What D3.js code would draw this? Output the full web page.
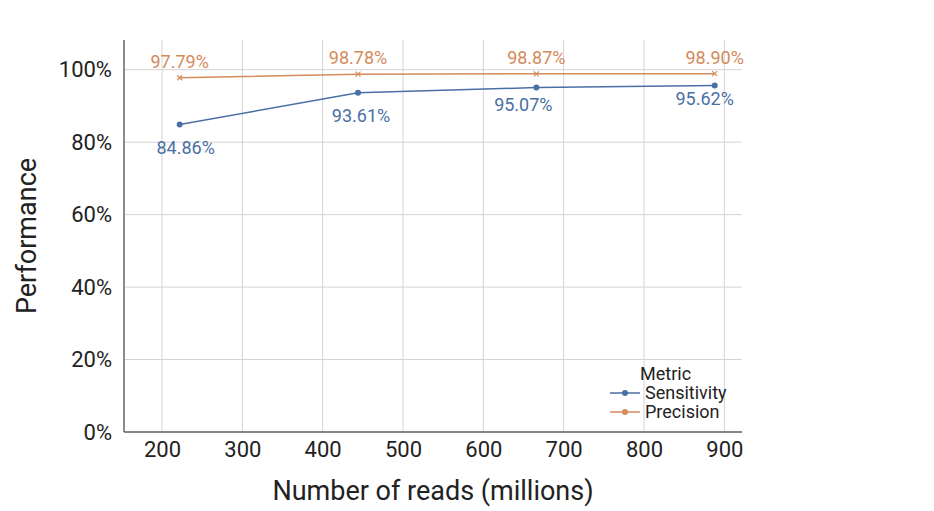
<!DOCTYPE html><html><head><meta charset="utf-8"><script src="https://cdn.jsdelivr.net/npm/d3@7"></script>
<style>body{margin:0;background:#fff}text{font-family:Roboto,"Open Sans",sans-serif}</style></head><body><svg width="934" height="511"></svg>
<script>
const reads=[222,444,666,888];
const sensitivity=[84.86,93.61,95.07,95.62];
const precision=[97.79,98.78,98.87,98.90];
const xTicks=[200,300,400,500,600,700,800,900];
const yTicks=[0,20,40,60,80,100];
const svg=d3.select("svg");
const L=124,R=742,T=40,B=432;
const x=d3.scaleLinear().domain([152.7,922]).range([L,R]);
const y=d3.scaleLinear().domain([0,108.2]).range([B,T]);
const g=svg.append("g");
g.selectAll(".gx").data(xTicks).join("line").attr("x1",d=>x(d)).attr("x2",d=>x(d)).attr("y1",T).attr("y2",B).attr("stroke","#d3d3d3");
g.selectAll(".gy").data(yTicks).join("line").attr("x1",L).attr("x2",R).attr("y1",d=>y(d)).attr("y2",d=>y(d)).attr("stroke","#d3d3d3");
svg.append("line").attr("x1",L).attr("x2",L).attr("y1",T).attr("y2",B).attr("stroke","#666").attr("stroke-width",1.5);
svg.append("line").attr("x1",L).attr("x2",R).attr("y1",B).attr("y2",B).attr("stroke","#666").attr("stroke-width",1.5);
const xa=svg.append("g").attr("transform",`translate(0,${B})`).call(d3.axisBottom(x).tickValues(xTicks).tickSize(0).tickPadding(9));
xa.select(".domain").remove();xa.selectAll("text").attr("font-size",22).attr("fill","#222");
const ya=svg.append("g").attr("transform",`translate(${L},0)`).call(d3.axisLeft(y).tickValues(yTicks).tickSize(0).tickPadding(12).tickFormat(d=>d+"%"));
ya.select(".domain").remove();ya.selectAll("text").attr("font-size",22).attr("fill","#222");
svg.append("text").attr("x",433).attr("y",500).attr("text-anchor","middle").attr("font-size",27).attr("fill","#222").text("Number of reads (millions)");
svg.append("text").attr("transform","translate(36,236) rotate(-90)").attr("text-anchor","middle").attr("font-size",27).attr("fill","#222").text("Performance");
const blue="#4a6fa5",orange="#d58a5a";
const line=d3.line().x(d=>x(d[0])).y(d=>y(d[1]));
const sd=reads.map((r,i)=>[r,sensitivity[i]]), pd=reads.map((r,i)=>[r,precision[i]]);
svg.append("path").attr("d",line(sd)).attr("fill","none").attr("stroke",blue).attr("stroke-width",1.5);
svg.append("path").attr("d",line(pd)).attr("fill","none").attr("stroke",orange).attr("stroke-width",1.5);
svg.selectAll(".sp").data(sd).join("circle").attr("cx",d=>x(d[0])).attr("cy",d=>y(d[1])).attr("r",3).attr("fill",blue);
svg.selectAll(".pp").data(pd).join("path").attr("d",d=>{const cx=x(d[0]),cy=y(d[1]);return `M${cx-2.5},${cy-2.5}L${cx+2.5},${cy+2.5}M${cx-2.5},${cy+2.5}L${cx+2.5},${cy-2.5}`}).attr("stroke",orange).attr("stroke-width",1.2);
svg.selectAll(".pl").data(pd).join("text").attr("x",d=>x(d[0])).attr("y",d=>y(d[1])-10).attr("text-anchor","middle").attr("font-size",18).attr("fill",orange).text(d=>d[1].toFixed(2)+"%");
const sOff=[29,29,23,19], sDx=[6,3,-13,-10];
svg.selectAll(".sl").data(sd).join("text").attr("x",(d,i)=>x(d[0])+sDx[i]).attr("y",(d,i)=>y(d[1])+sOff[i]).attr("text-anchor","middle").attr("font-size",18).attr("fill",blue).text(d=>d[1].toFixed(2)+"%");
const lg=svg.append("g");
lg.append("text").attr("x",640).attr("y",380).attr("font-size",18).attr("fill","#222").text("Metric");
[["Sensitivity",blue],["Precision",orange]].forEach((s,i)=>{const yy=393+i*19;
lg.append("line").attr("x1",610).attr("x2",640).attr("y1",yy).attr("y2",yy).attr("stroke",s[1]).attr("stroke-width",1.5);
lg.append("circle").attr("cx",625).attr("cy",yy).attr("r",3).attr("fill",s[1]);
lg.append("text").attr("x",645).attr("y",yy+6).attr("font-size",18).attr("fill","#222").text(s[0]);});
</script></body></html>
